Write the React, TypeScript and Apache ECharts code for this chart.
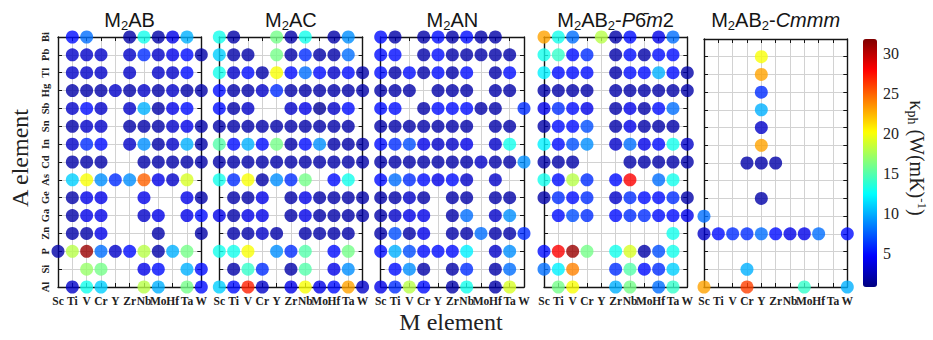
import React, { useEffect, useRef } from "react";
import * as echarts from "echarts";

const _ = null;

const M_ELEMENTS = ["Sc", "Ti", "V", "Cr", "Y", "Zr", "Nb", "Mo", "Hf", "Ta", "W"];
const A_ELEMENTS = ["Al", "Si", "P", "Zn", "Ga", "Ge", "As", "Cd", "In", "Sn", "Sb", "Hg", "Tl", "Pb", "Bi"];
const COLORBAR_TICKS = [5, 10, 15, 20, 25, 30];
const KAPPA_MIN = 0.8;
const KAPPA_MAX = 31.8;

// rows listed top (Bi) to bottom (Al); columns Sc Ti V Cr Y Zr Nb Mo Hf Ta W
const M2AB: (number | null)[][] = [
  [_, 5, 8, _, _, 2, 13, 2, 4, 10, _], // Bi
  [_, 3, 3, 3, _, 3, 6, 3, 4, 5, 2], // Pb
  [_, 3, 3, 3, _, 3, _, 3, 3, 5, _], // Tl
  [_, 2, 2, 2, 3, 2, 3, 2, 3, 2, 2], // Hg
  [_, 3, 5, 3, _, 3, 10, 2, 4, 5, _], // Sb
  [_, 2, 3, 3, _, 2, 2, 2, 3, 4, 2], // Sn
  [_, 3, 6, 5, _, 3, 9, 2, 3, 10, 2], // In
  [_, 2, 2, 2, _, _, 2, 2, 2, 2, 2], // Cd
  [_, 11, 20, 9, 6, 9, 25, 4, 3, 19, _], // As
  [_, 2, 4, 4, _, _, 4, _, _, 4, 2], // Ge
  [_, 2, 4, 4, _, _, 3, 4, _, 4, 5], // Ga
  [_, 2, 2, 4, _, _, _, 2, _, _, 2], // Zn
  [2, 18, 31, 8, 3, 5, 18, 2, 10, 16, _], // P
  [_, _, 17, 16, _, _, 4, 5, _, 10, 5], // Si
  [_, 3, 13, 11, _, _, 18, 10, _, 16, 5], // Al
];

const M2AC: (number | null)[][] = [
  [13, 2, _, _, 16, 2, 13, _, 2, 9, _], // Bi
  [11, 2, 2, _, 16, 2, 6, 2, 2, 8, _], // Pb
  [13, 3, 5, 2, 20, 5, 8, 5, 3, 5, 2], // Tl
  [5, 2, 2, 3, 6, 2, 2, 2, 2, 2, 2], // Hg
  [5, 2, 3, _, _, 3, 4, 1.5, 3, 5, _], // Sb
  [2, 2, 2, 2, 2, 2, 2, 2, 2, 2, _], // Sn
  [15, 5, 10, 5, 16, 2, 5, 9, 2, 2, 2], // In
  [2, 2, 2, 2, 2, 2, 2, 2, 2, 2, 2], // Cd
  [13, 6, 20, 2, 9, 6, 16, _, 5, 13, _], // As
  [_, 2, 2, 4, _, 2, 4, 2, 2, 2, 2], // Ge
  [4, 2, 4, 4, _, 2, 4, 2, 2, 2, 2], // Ga
  [_, 2, 2, 3, 2, _, 2, 2, 2, 2, _], // Zn
  [13, 13, 20, _, 9, 6, 15, _, 5, 16, _], // P
  [_, 2, 14, 6, _, 2, 15, _, 4, 9, _], // Si
  [11, 5, 27, 3, _, 4, 20, 4, 5, 23, 3], // Al
];

const M2AN: (number | null)[][] = [
  [5, 2, _, 2, 5, 2, 5, 2, 2, _, _], // Bi
  [5, 5, _, 2, 5, 2, 2, 2, 2, 2, _], // Pb
  [5, 2, 5, 2, 5, 2, 5, _, 2, 5, _], // Tl
  [2, 2, 2, _, 2, 2, 2, _, 2, 2, _], // Hg
  [5, 5, _, 2, 5, 5, 5, 2, 2, _, 6], // Sb
  [2, 2, 2, 2, 2, 2, 2, _, 2, 2, _], // Sn
  [5, 6, 7, 4, 3, 3, 4, _, 3, 13, _], // In
  [2, 2, 2, 2, 2, 2, 2, 3, 2, 2, 9], // Cd
  [5, 8, 6, 5, 4, 5, 3, _, 3, _, _], // As
  [2, 2, 3, 2, _, 2, 2, _, 2, 2, _], // Ge
  [2, 3, 4, 4, _, 2, 8, _, 3, 9, _], // Ga
  [2, 7, 2, 4, _, 2, 2, 8, 2, 2, 6], // Zn
  [5, 10, 7, 5, 5, 5, 12, _, 3, 9, _], // P
  [_, 5, 9, 2, _, 2, 6, _, 2, 8, _], // Si
  [4, 6, 18, 5, _, 2, 13, _, 2, 19, _], // Al
];

const M2AB2_P6M2: (number | null)[][] = [
  [23, 13, 8, _, 18, 2, 5, _, 4, 8, _], // Bi
  [13, 14, 5, 6, _, 2, 5, 2, 5, 5, _], // Pb
  [12, 5, 5, 5, _, 2, 5, 5, 10, 5, 2], // Tl
  [2, 2, 2, 2, _, 2, 2, 2, 2, 2, 2], // Hg
  [4, 6, 5, 4, _, 2, 4, 2, 5, 8, _], // Sb
  [2, 5, 5, 7, _, 2, 4, 2, 2, 2, _], // Sn
  [12, 5, 7, 9, _, 3, 8, 4, 5, 13, 3], // In
  [2, 2, 2, _, _, _, 2, 2, 2, 2, 2], // Cd
  [13, 5, 18, 6, _, 5, 28, _, 8, 13, _], // As
  [2, 6, 5, 6, _, 3, 6, 5, 5, 6, 2], // Ge
  [_, 5, 7, 6, _, 5, 6, 6, 5, 5, 4], // Ga
  [_, _, _, _, _, _, _, _, _, 13, _], // Zn
  [5, 28, 31, 16, _, 13, 19, 2, 7, 13, _], // P
  [8, 12, 24, _, _, 6, 15, 5, 6, 11, _], // Si
  [_, 16, 20, _, _, 10, 16, _, 8, 14, _], // Al
];

const M2AB2_CMMM: (number | null)[][] = [
  [_, _, _, _, _, _, _, _, _, _, _], // Bi
  [_, _, _, _, 20, _, _, _, _, _, _], // Pb
  [_, _, _, _, 23, _, _, _, _, _, _], // Tl
  [_, _, _, _, 6, _, _, _, _, _, _], // Hg
  [_, _, _, _, 10, _, _, _, _, _, _], // Sb
  [_, _, _, _, 3, _, _, _, _, _, _], // Sn
  [_, _, _, _, 23, _, _, _, _, _, _], // In
  [_, _, _, 2, 2, 2, _, _, _, _, _], // Cd
  [_, _, _, _, _, _, _, _, _, _, _], // As
  [_, _, _, _, 2, _, _, _, _, _, _], // Ge
  [8, _, _, _, _, _, _, _, _, _, _], // Ga
  [3, 5, 6, 6, 8, 5, 4, 4, 8, _, 5], // Zn
  [_, _, _, _, _, _, _, _, _, _, _], // P
  [_, _, _, 10, _, _, _, _, _, _, _], // Si
  [23, _, _, 26, _, _, _, 14, _, _, 10], // Al
];

const PANEL_VALUES = [M2AB, M2AC, M2AN, M2AB2_P6M2, M2AB2_CMMM];
const PANEL_TITLES = [
  "{n|M}{s|2}{n|AB}",
  "{n|M}{s|2}{n|AC}",
  "{n|M}{s|2}{n|AN}",
  "{n|M}{s|2}{n|AB}{s|2}{n|-}{i|P}{n|6\u0304}{i|m}{n|2}",
  "{n|M}{s|2}{n|AB}{s|2}{n|-}{i|Cmmm}",
];

const JET = ["#000080", "#0000ff", "#0080ff", "#00ffff", "#80ff80", "#ffff00", "#ff8000", "#ff0000", "#800000"];

// layout
const GRID_LEFT = [58, 219.3, 380.7, 544, 704];
const GRID_WIDTH = 143.3;
const GRID_TOP = [37, 37, 37, 37, 39];
const GRID_BOTTOM = 287;
const CB_LEFT = 863;
const CB_TOP = 39;
const CB_W = 14;
const CB_H = 248;

const SERIF = "Liberation Serif";
const SANS = "Liberation Sans";
const INK = "#151515";

function buildOption() {
  const grid: any[] = [];
  const xAxis: any[] = [];
  const yAxis: any[] = [];
  const series: any[] = [];
  const graphic: any[] = [];

  const lineStyle = { color: INK, width: 1.4 };
  const tick = { show: true, inside: true, length: 4, interval: 0, lineStyle: { color: INK, width: 1 } };
  const split = { show: true, interval: 0, lineStyle: { color: "#d2d2d2", width: 1 } };

  PANEL_VALUES.forEach((rows, i) => {
    grid.push({
      left: GRID_LEFT[i],
      top: GRID_TOP[i],
      width: GRID_WIDTH,
      height: GRID_BOTTOM - GRID_TOP[i],
      containLabel: false,
    });
    xAxis.push({
      type: "category",
      gridIndex: i,
      data: M_ELEMENTS,
      boundaryGap: false,
      position: "bottom",
      axisLine: { show: true, lineStyle },
      axisTick: tick,
      axisLabel: {
        interval: 0,
        margin: 8,
        fontFamily: SERIF,
        fontWeight: "bold",
        fontSize: 11.5,
        color: "#222",
      },
      splitLine: split,
      z: 1,
    });
    xAxis.push({
      type: "category",
      gridIndex: i,
      data: M_ELEMENTS,
      boundaryGap: false,
      position: "top",
      axisLine: { show: true, lineStyle },
      axisTick: tick,
      axisLabel: { show: false },
      splitLine: { show: false },
      z: 1,
    });
    yAxis.push({
      type: "category",
      gridIndex: i,
      data: A_ELEMENTS,
      boundaryGap: false,
      position: "left",
      axisLine: { show: true, lineStyle },
      axisTick: tick,
      axisLabel: {
        show: i === 0,
        interval: 0,
        rotate: 90,
        margin: 7,
        fontFamily: SERIF,
        fontWeight: "bold",
        fontSize: 10.5,
        color: "#222",
      },
      splitLine: split,
      z: 1,
    });
    yAxis.push({
      type: "category",
      gridIndex: i,
      data: A_ELEMENTS,
      boundaryGap: false,
      position: "right",
      axisLine: { show: true, lineStyle },
      axisTick: tick,
      axisLabel: { show: false },
      splitLine: { show: false },
      z: 1,
    });

    const data: number[][] = [];
    rows.forEach((row, r) => {
      row.forEach((v, c) => {
        if (v !== null) data.push([c, A_ELEMENTS.length - 1 - r, v]);
      });
    });
    series.push({
      type: "scatter",
      xAxisIndex: 2 * i,
      yAxisIndex: 2 * i,
      data,
      symbol: "circle",
      symbolSize: 13,
      clip: false,
      z: 5,
    });

    graphic.push({
      type: "text",
      x: GRID_LEFT[i] + GRID_WIDTH / 2,
      y: 19.5,
      style: {
        text: PANEL_TITLES[i],
        align: "center",
        verticalAlign: "middle",
        rich: {
          n: { fontFamily: SANS, fontSize: 20, fill: INK, lineHeight: 24 },
          i: { fontFamily: SANS, fontSize: 20, fontStyle: "italic", fill: INK, lineHeight: 24 },
          s: { fontFamily: SANS, fontSize: 13, fill: INK, lineHeight: 10, verticalAlign: "bottom" },
        },
      },
    });
  });

  // colour-bar axis
  grid.push({ left: CB_LEFT, top: CB_TOP, width: CB_W, height: CB_H });
  xAxis.push({ type: "value", gridIndex: 5, show: false, min: 0, max: 1 });
  yAxis.push({
    type: "value",
    gridIndex: 5,
    min: KAPPA_MIN,
    max: KAPPA_MAX,
    position: "right",
    axisLine: { show: false },
    axisTick: { show: false, customValues: COLORBAR_TICKS },
    axisLabel: {
      customValues: COLORBAR_TICKS,
      margin: 6,
      fontFamily: SERIF,
      fontSize: 16,
      color: "#222",
    },
    splitLine: { show: false },
  });

  graphic.push({
    type: "text",
    x: 20,
    y: 158,
    rotation: Math.PI / 2,
    style: { text: "A element", fontFamily: SERIF, fontSize: 24, fill: "#222", align: "center", verticalAlign: "middle" },
  });
  graphic.push({
    type: "text",
    x: 451,
    y: 322,
    style: { text: "M element", fontFamily: SERIF, fontSize: 24, fill: "#222", align: "center", verticalAlign: "middle" },
  });
  graphic.push({
    type: "text",
    x: 917,
    y: 158,
    rotation: -Math.PI / 2,
    style: {
      text: "{n|\u03ba}{s|ph}{n| (W(mK)}{u|-1}{n|)}",
      align: "center",
      verticalAlign: "middle",
      rich: {
        n: { fontFamily: SERIF, fontSize: 20, fill: "#222", lineHeight: 24 },
        s: { fontFamily: SERIF, fontSize: 14, fill: "#222", lineHeight: 10, verticalAlign: "bottom" },
        u: { fontFamily: SERIF, fontSize: 13, fill: "#222", lineHeight: 10, verticalAlign: "top" },
      },
    },
  });

  return {
    animation: false,
    backgroundColor: "#ffffff",
    grid,
    xAxis,
    yAxis,
    series,
    graphic,
    visualMap: {
      type: "continuous",
      min: KAPPA_MIN,
      max: KAPPA_MAX,
      dimension: 2,
      seriesIndex: [0, 1, 2, 3, 4],
      inRange: { color: JET },
      calculable: false,
      orient: "vertical",
      left: CB_LEFT,
      top: CB_TOP,
      itemWidth: CB_W,
      itemHeight: CB_H,
      padding: 0,
      text: null,
      showLabel: false,
      hoverLink: false,
    },
  };
}

export default function App() {
  const ref = useRef<HTMLDivElement>(null);
  useEffect(() => {
    if (!ref.current) return;
    const chart = echarts.init(ref.current, null, { renderer: "svg" });
    chart.setOption(buildOption() as any);
    return () => chart.dispose();
  }, []);
  return (
    <div
      ref={ref}
      style={{ position: "fixed", left: 0, top: 0, width: 933, height: 340, background: "#fff" }}
    />
  );
}
